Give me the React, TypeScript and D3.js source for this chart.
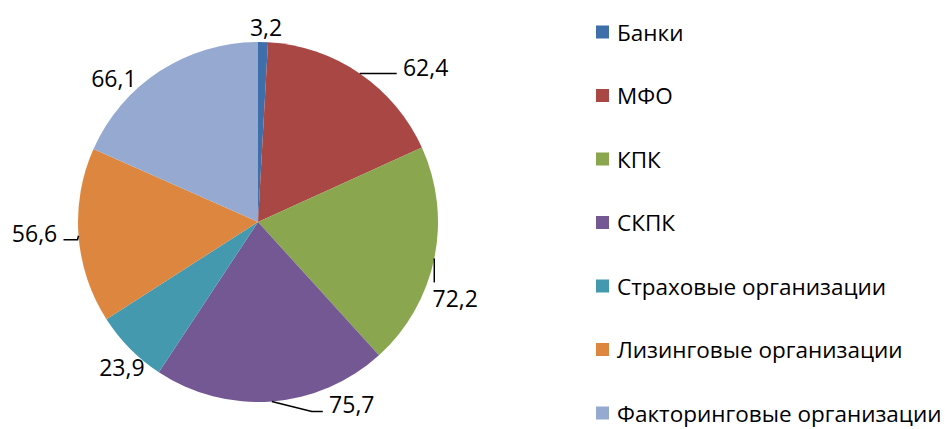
import React, { useRef, useEffect } from 'react';
import * as d3 from 'd3';

const categories = ['Банки', 'МФО', 'КПК', 'СКПК', 'Страховые организации', 'Лизинговые организации', 'Факторинговые организации'];
const values = [3.2, 62.4, 72.2, 75.7, 23.9, 56.6, 66.1];
const colors = ['#3f6fab', '#a94744', '#8aa64f', '#735893', '#4599ae', '#dc8640', '#95a9d1'];

// label placement relative to the point where the slice's mid angle meets the rim
const labelOffsets = [[3, -15], [66, -6], [21, 40], [80, 3], [-8, 19], [-44, -3], [-46, 7]];
const leaders = [null, [[37, 0]], [[0, 24]], [[40, 10], [51, 10]], null, [[-1, 4], [-15, 4]], null];

const App = () => {
    const chartRef = useRef();

    useEffect(() => {
        const width = 945;
        const height = 429;
        const cx = 258;
        const cy = 222;
        const radius = 180;
        const font = "'Open Sans', sans-serif";

        const svg = d3.select(chartRef.current)
            .attr('width', width)
            .attr('height', height);
        svg.selectAll('*').remove();

        const g = svg.append('g')
            .attr('transform', `translate(${cx},${cy})`);

        const pie = d3.pie().sort(null).value(d => d);
        const arcs = pie(values);
        const arc = d3.arc().innerRadius(0).outerRadius(radius);
        const fmt = v => d3.format('.1f')(v).replace('.', ',');

        g.selectAll('path.slice')
            .data(arcs)
            .enter().append('path')
            .attr('class', 'slice')
            .attr('d', arc)
            .attr('fill', (d, i) => colors[i]);

        const rim = d => {
            const a = (d.startAngle + d.endAngle) / 2;
            return [radius * Math.sin(a), -radius * Math.cos(a)];
        };

        arcs.forEach((d, i) => {
            const [px, py] = rim(d);
            const lead = leaders[i];
            if (lead) {
                const pts = [[px, py], ...lead.map(([dx, dy]) => [px + dx, py + dy])];
                g.append('path')
                    .attr('d', d3.line()(pts))
                    .attr('fill', 'none')
                    .attr('stroke', '#000')
                    .attr('stroke-width', 1.5);
            }
            const [ox, oy] = labelOffsets[i];
            g.append('text')
                .attr('x', px + ox)
                .attr('y', py + oy)
                .attr('text-anchor', 'middle')
                .attr('dominant-baseline', 'central')
                .style('font-family', font)
                .style('font-size', '23px')
                .attr('fill', '#000')
                .text(fmt(values[i]));
        });

        const legendY = d3.scalePoint()
            .domain(categories)
            .range([32, 413]);

        const legend = svg.append('g');
        const items = legend.selectAll('g')
            .data(categories)
            .enter().append('g')
            .attr('transform', d => `translate(596,${legendY(d)})`);

        items.append('rect')
            .attr('x', 0)
            .attr('y', -6.5)
            .attr('width', 13)
            .attr('height', 13)
            .attr('fill', (d, i) => colors[i]);

        items.append('text')
            .attr('x', 21)
            .attr('y', 0)
            .attr('dominant-baseline', 'central')
            .style('font-family', font)
            .style('font-size', '22.5px')
            .attr('fill', '#000')
            .text(d => d);
    }, []);

    return (
        <svg ref={chartRef} style={{ position: 'absolute', left: 0, top: 0, display: 'block', background: '#fff' }}></svg>
    );
};

export default App;
